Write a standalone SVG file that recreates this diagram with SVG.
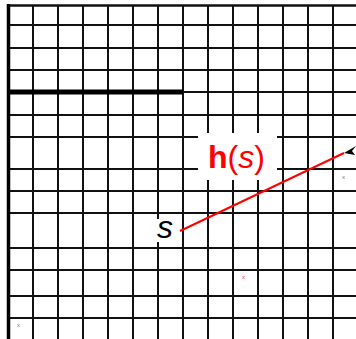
<svg xmlns="http://www.w3.org/2000/svg" width="356" height="339" viewBox="0 0 356 339">
<style>
.g{stroke:#111;stroke-width:2;fill:none}
.lbl{font-family:"Liberation Sans",Arial,sans-serif}
.mk{font-family:"Liberation Sans",Arial,sans-serif;font-size:6px}
</style>
<rect width="356" height="339" fill="#fff"/>
<g id="grid">
<path class="g" d="M33 5V339M58 5V339M83 5V339M108 5V339M133 5V339M158 5V339M183 5V339M208 5V339M233 5V339M258 5V339M283 5V339M308 5V339M333 5V339"/>
<path class="g" d="M8 25H356M8 48H356M8 70H356M183 92H356M8 115H356M8 137H356M8 169H356M8 191H356M8 213H356M8 248H356M8 270H356M8 296H356M8 318H356"/>
<path d="M8 5.5H356" stroke="#111" stroke-width="2.5"/>
<path d="M8.5 4V339" stroke="#000" stroke-width="3.5"/>
<path d="M8 92H183" stroke="#000" stroke-width="5"/>
</g>
<g id="connectors">
<line x1="180" y1="231" x2="344" y2="153" stroke="#f00" stroke-width="2"/>
<polygon points="344,153 356,146 352,151 355,155" fill="#000"/>
</g>
<g id="label-h">
<rect x="198" y="133" width="79" height="47" fill="#fff"/>
<text class="lbl" x="208" y="168" font-size="32" fill="#f00"><tspan font-weight="bold">h</tspan>(<tspan font-style="italic">s</tspan>)</text>
</g>
<g id="label-s">
<rect x="155" y="219" width="24" height="23" fill="#fff"/>
<text class="lbl" x="157" y="238" font-size="32" font-style="italic" fill="#000">s</text>
</g>
<g id="marks">
<text class="mk" x="17" y="327" fill="#777">x</text>
<text class="mk" x="242" y="279" fill="#f33">x</text>
<text class="mk" x="342" y="179" fill="#777">x</text>
</g>
</svg>
